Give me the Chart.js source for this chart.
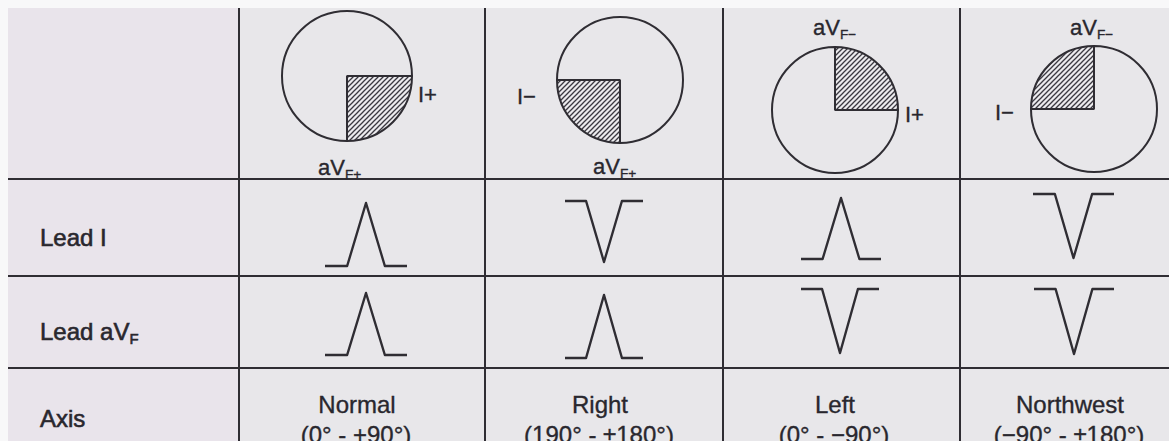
<!DOCTYPE html>
<html>
<head>
<meta charset="utf-8">
<script src="https://cdn.jsdelivr.net/npm/chart.js@4.4.0/dist/chart.umd.min.js"></script>
<style>
html, body { margin: 0; padding: 0; background: #f8f8f9; }
#sheet {
    position: relative; width: 1169px; height: 441px; overflow: hidden;
    background: #f8f8f9;
    font-family: "Liberation Sans", Arial, sans-serif; color: #29272e;
}
.panel { position: absolute; }
.hl { position: absolute; height: 2px; background: #2f2d33; }
.vl { position: absolute; width: 2px; background: #2f2d33; }
.txt { position: absolute; white-space: nowrap; line-height: 1; font-size: 24px; -webkit-text-stroke: 0.35px #29272e; }
.head { -webkit-text-stroke: 0.6px #29272e; }
.small { font-size: 22px; }
.txt sub { font-size: 62%; vertical-align: -0.28em; line-height: 0; }
canvas { position: absolute; }
</style>
</head>
<body>
<div id="sheet"></div>
<script>
// table content
const columns = ['Normal', 'Right', 'Left', 'Northwest'];
const ranges = ['(0° - +90°)', '(190° - ±180°)', '(0° - −90°)', '(−90° - ±180°)'];
const rowLabels = ['Lead I', 'Lead aV<sub>F</sub>', 'Axis'];

// polarity of the QRS deflection in each lead, per column
const leadI = [1, -1, 1, -1];
const leadAVF = [1, 1, -1, -1];

// one deflection: flat, up to the peak, back down, flat
const waveX = [0, 0.27, 0.5, 0.73, 1];
const waveY = [0, 0, 1, 0, 0];

// shaded quarter vs the rest of the circle
const quadrant = [1, 3];

// ---- layout (pixels) ----
const ink = '#2f2d33';
const paper = '#e8e7ea';
const colLines = [239, 485, 723, 960];
const rowLines = [179, 276, 368];
const circles = [[347, 76, 65], [620, 80, 63], [835, 110, 63], [1094, 109, 63]];
// [x0, x1, yTop, yBottom] per row, per column
const waveBoxes = [
    [[325, 407, 203, 266], [565, 643, 201, 262], [801, 881, 198, 259], [1033, 1114, 194, 258]],
    [[325, 407, 293, 355], [565, 643, 295, 358], [801, 879, 289, 353], [1034, 1114, 289, 354]]
];
// label boxes around circles: [x, centerY] for the I label and the aVF label
const iLabelPos = [[418, 95], [517, 97], [905, 115], [995, 113]];
const fLabelPos = [[318, 168], [593, 167], [813, 28], [1070, 28]];

const sheet = document.getElementById('sheet');

function add(tag, cls, style, html) {
    const el = document.createElement(tag);
    if (cls) el.className = cls;
    Object.assign(el.style, style);
    if (html !== undefined) el.innerHTML = html;
    sheet.appendChild(el);
    return el;
}

// paper panels
add('div', 'panel', {left: '8px', top: '8px', width: '231px', height: '433px', background: '#e9e4eb'});
add('div', 'panel', {left: '239px', top: '8px', width: '930px', height: '433px', background: paper});

// table rules
colLines.forEach(x => add('div', 'vl', {left: (x - 1) + 'px', top: '8px', height: '433px'}));
rowLines.forEach(y => add('div', 'hl', {left: '8px', top: (y - 1) + 'px', width: '1161px'}));

// row headers
const rowCenters = [238, 332, 419];
rowLabels.forEach((t, i) => add('div', 'txt head', {left: '40px', top: rowCenters[i] + 'px', transform: 'translateY(-50%)'}, t));

// bottom row: axis names
const colCenters = [357, 600, 835, 1070];
columns.forEach((name, i) => {
    add('div', 'txt', {left: colCenters[i] + 'px', top: '405px', transform: 'translate(-50%, -50%)'}, name);
    add('div', 'txt', {left: (colCenters[i] - 1) + 'px', top: '435px', transform: 'translate(-50%, -50%)'}, ranges[i]);
});

// hatch pattern for the shaded quarter
function hatch() {
    const c = document.createElement('canvas');
    c.width = 5; c.height = 5;
    const g = c.getContext('2d');
    g.fillStyle = '#ecebee';
    g.fillRect(0, 0, 5, 5);
    g.strokeStyle = '#3a3840';
    g.lineWidth = 1.3;
    g.beginPath();
    g.moveTo(-1, 6); g.lineTo(6, -1);
    g.moveTo(-1, 1); g.lineTo(1, -1);
    g.moveTo(4, 6); g.lineTo(6, 4);
    g.stroke();
    return g.createPattern(c, 'repeat');
}

function rotationFor(i) {
    if (leadI[i] > 0 && leadAVF[i] > 0) return 90;
    if (leadI[i] < 0 && leadAVF[i] > 0) return 180;
    if (leadI[i] < 0 && leadAVF[i] < 0) return 270;
    return 0;
}

const baseOptions = {
    responsive: false,
    animation: false,
    events: [],
    plugins: { legend: { display: false }, tooltip: { enabled: false } }
};

// circles
columns.forEach((_, i) => {
    const [cx, cy, r] = circles[i];
    const size = 2 * r + 8;
    const cv = add('canvas', null, {left: (cx - size / 2) + 'px', top: (cy - size / 2) + 'px'});
    cv.width = size; cv.height = size;
    const ctx = cv.getContext('2d');
    new Chart(ctx, {
        type: 'pie',
        data: {
            labels: ['shaded', 'rest'],
            datasets: [{
                data: quadrant,
                backgroundColor: [hatch(), paper],
                borderColor: ink,
                borderWidth: 2,
                radius: r
            }]
        },
        options: Object.assign({ rotation: rotationFor(i) }, baseOptions)
    });

    const iTxt = leadI[i] > 0 ? 'I+' : 'I−';
    const fTxt = leadAVF[i] > 0 ? 'aV<sub>F+</sub>' : 'aV<sub>F−</sub>';
    add('div', 'txt small', {left: iLabelPos[i][0] + 'px', top: iLabelPos[i][1] + 'px', transform: 'translateY(-50%)'}, iTxt);
    add('div', 'txt small', {left: fLabelPos[i][0] + 'px', top: fLabelPos[i][1] + 'px', transform: 'translateY(-50%)'}, fTxt);
});

// deflections
[leadI, leadAVF].forEach((lead, row) => {
    lead.forEach((sign, i) => {
        const [x0, x1, y0, y1] = waveBoxes[row][i];
        const pad = 4;
        const cv = add('canvas', null, {left: (x0 - pad) + 'px', top: (y0 - pad) + 'px'});
        cv.width = x1 - x0 + 2 * pad;
        cv.height = y1 - y0 + 2 * pad;
        new Chart(cv.getContext('2d'), {
            type: 'line',
            data: {
                datasets: [{
                    data: waveX.map((x, k) => ({x: x, y: waveY[k] * sign})),
                    borderColor: ink,
                    borderWidth: 2.4,
                    borderJoinStyle: 'round',
                    pointRadius: 0,
                    tension: 0,
                    clip: false
                }]
            },
            options: Object.assign({
                layout: { padding: pad },
                scales: {
                    x: { type: 'linear', min: 0, max: 1, display: false },
                    y: { min: Math.min(0, sign), max: Math.max(0, sign), display: false }
                }
            }, baseOptions)
        });
    });
});
</script>
</body>
</html>
